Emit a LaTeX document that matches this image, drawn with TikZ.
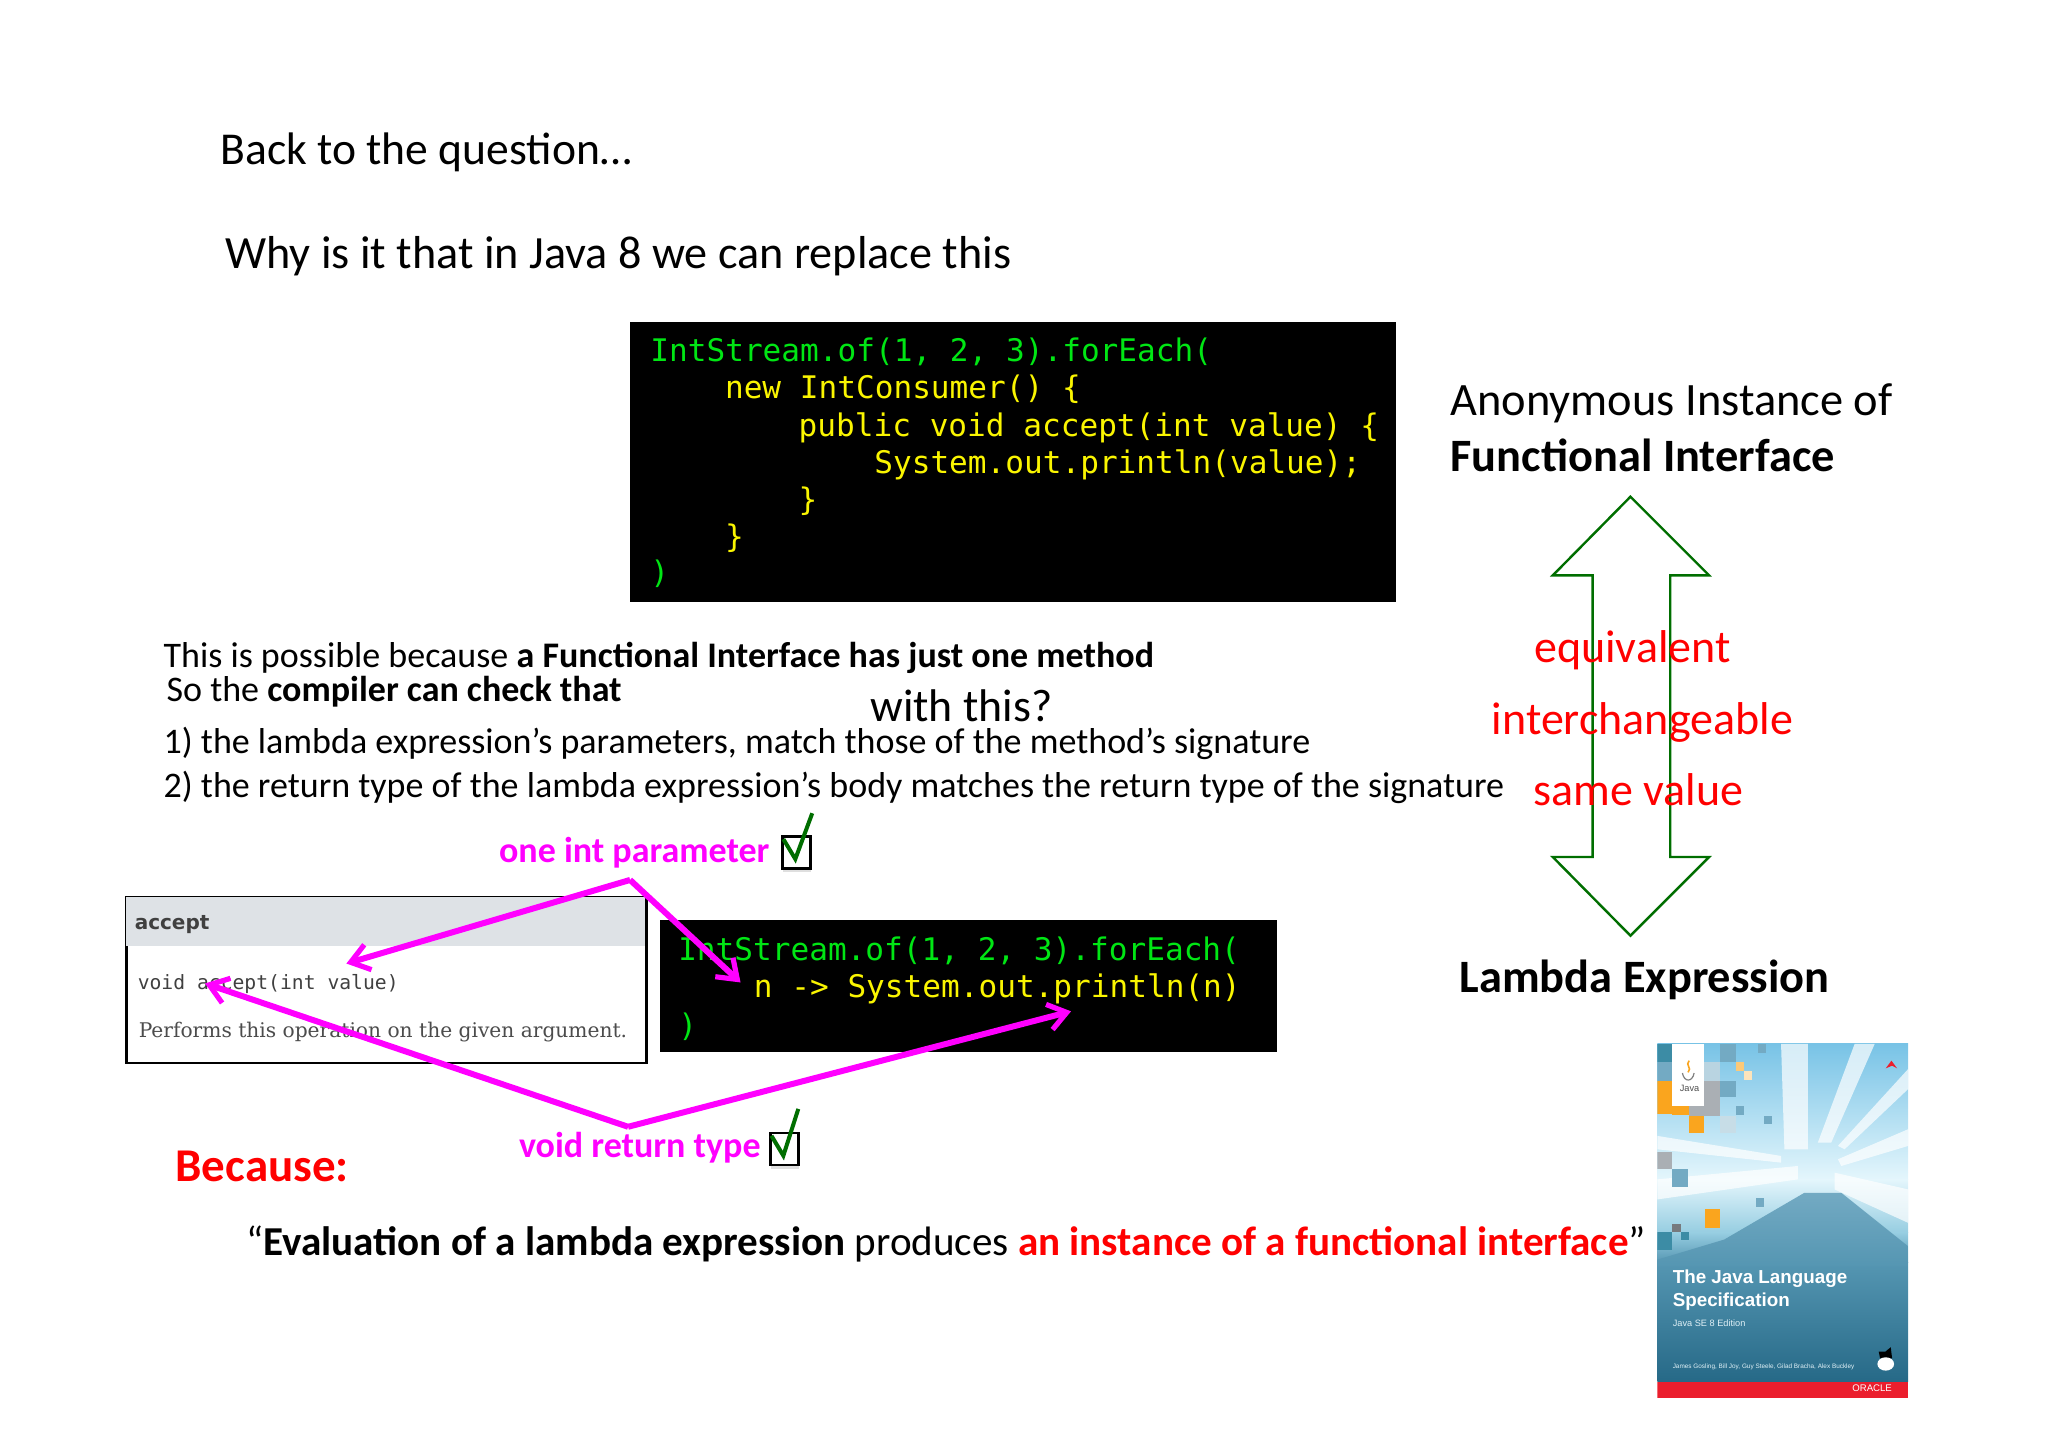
\documentclass[tikz,border=0pt]{standalone}
\usepackage{fontspec}
\setmainfont{Carlito}
\newfontfamily\codefont{DejaVu Sans Mono}
\newfontfamily\docbold{DejaVu Sans}
\newfontfamily\docserif{DejaVu Serif}
\newfontfamily\coverfont{Liberation Sans}
\usetikzlibrary{arrows.meta,shadows}
\definecolor{codegreen}{RGB}{0,230,20}
\definecolor{codeyellow}{RGB}{250,245,0}
\definecolor{tickgreen}{RGB}{0,110,0}
\definecolor{headgray}{RGB}{222,226,230}
\definecolor{hotpink}{RGB}{255,0,255}
\definecolor{skytop}{RGB}{120,195,230}
\definecolor{skymid}{RGB}{228,246,252}
\definecolor{floorlight}{RGB}{150,205,225}
\definecolor{floorteal}{RGB}{85,150,178}
\definecolor{floordark}{RGB}{38,105,135}
\definecolor{tileteal}{RGB}{60,140,165}
\definecolor{tilepale}{RGB}{115,170,195}
\definecolor{tilegray}{RGB}{170,175,180}
\definecolor{tileorange}{RGB}{250,165,30}
\definecolor{barred}{RGB}{235,30,45}
\newcommand{\pxsize}[1]{\fontsize{#1}{#1}\selectfont}
\tikzset{
  txt/.style={anchor=base west,inner sep=0pt,text=black},
  body/.style={txt,font=\pxsize{18}},
  side/.style={txt,font=\pxsize{23.2}},
  redtxt/.style={anchor=base,inner sep=0pt,text=red,font=\pxsize{23}},
  pinktxt/.style={txt,text=hotpink,font=\pxsize{18}\bfseries},
  codeline/.style={txt,font=\codefont\pxsize{15.55}},
  codebox/.style={anchor=north west,fill=black,inner sep=0pt},
  pointer/.style={hotpink,line width=3pt,-{Straight Barb[length=9pt,width=13pt,line width=2.6pt]},
    preaction={draw=black,opacity=.12,transform canvas={yshift=-1.5pt}}},
  tickbox/.style={anchor=north west,draw=black,line width=1.2pt,fill=white,inner sep=0pt,
    minimum width=14pt,minimum height=16pt,drop shadow={opacity=.25,shadow xshift=0pt,shadow yshift=-2pt}},
  tick/.style={tickgreen,line width=2pt},
  cover/.style={inner sep=0pt,anchor=base west,text=white},
  ray/.style={white,opacity=.7}
}
\begin{document}
\begin{tikzpicture}[x=0.4977pt,y=-0.4977pt]
  \useasboundingbox (0,0) rectangle (2057.5,1453.7);
  \node[txt,font=\pxsize{22.8}] (back) at (221,165) {Back to the question…};
  \node[txt,font=\pxsize{23.1}] (why) at (226,270) {Why is it that in Java 8 we can replace this};

  \node[codebox,minimum width=383pt,minimum height=140pt] (oldbox) at (633,323) {};
  \node[codeline,text=codegreen] (old0) at (653,363) {IntStream.of(1, 2, 3).forEach(};
  \node[codeline,text=codeyellow] (old1) at (728,400) {new IntConsumer() \{};
  \node[codeline,text=codeyellow] (old2) at (802,439) {public void accept(int value) \{};
  \node[codeline,text=codeyellow] (old3) at (878,476) {System.out.println(value);};
  \node[codeline,text=codeyellow] (old4) at (802,513) {\}};
  \node[codeline,text=codeyellow] (old5) at (728,550) {\}};
  \node[codeline,text=codegreen] (old6) at (653,586) {)};

  \node[side] (anon) at (1457,417) {Anonymous Instance of};
  \node[side] (func) at (1457,474) {\bfseries Functional Interface};
  \node[side] (lambda) at (1466,997) {\bfseries Lambda Expression};
  \draw[tickgreen,line width=1.2pt] (1638,499) -- (1717,578) -- (1678,578) -- (1678,861) -- (1717,861)
    -- (1638,940) -- (1560,861) -- (1600,861) -- (1600,578) -- (1560,578) -- cycle;
  \node[redtxt] (equiv) at (1640,666) {equivalent};
  \node[redtxt] (inter) at (1650,738) {interchangeable};
  \node[redtxt] (same) at (1646,809) {same value};

  \node[body] (possible) at (164,671) {This is possible because \textbf{a Functional Interface has just one method}};
  \node[body] (sothe) at (167,705) {So the \textbf{compiler can check that}};
  \node[txt,font=\pxsize{22.9}] (withthis) at (874,725) {with this?};
  \node[body] (first) at (164,757) {1) the lambda expression’s parameters, match those of the method’s signature};
  \node[body] (second) at (164,801) {2) the return type of the lambda expression’s body matches the return type of the signature};

  \node[pinktxt] (oneint) at (501,866) {one int parameter};
  \node[tickbox] (boxint) at (785,839) {};
  \draw[tick] (787,843) -- (799,863) -- (816,817);
  \node[pinktxt] (voidret) at (521,1163) {void return type};
  \node[tickbox] (boxvoid) at (773,1137) {};
  \draw[tick] (775,1141) -- (787,1161) -- (802,1114);

  \node[anchor=north west,draw=black,fill=white,line width=1.2pt,inner sep=0pt,minimum width=260pt,minimum height=83pt] (doc) at (126,900) {};
  \fill[headgray] (127,901) rectangle (648,950);
  \node[txt,font=\docbold\bfseries\pxsize{10},text=black!75] (docname) at (135,934) {accept};
  \node[txt,font=\codefont\pxsize{9.85},text=black!75] (docsig) at (138,994) {void accept(int value)};
  \node[txt,font=\docserif\pxsize{10.1},text=black!70] (docline) at (139,1042) {Performs this operation on the given argument.};

  \node[codebox,minimum width=308.5pt,minimum height=66pt] (newbox) at (663,924) {};
  \node[codeline,text=codegreen] (new0) at (681,965) {IntStream.of(1, 2, 3).forEach(};
  \node[codeline,text=codeyellow] (new1) at (757,1002) {n -> System.out.println(n)};
  \node[codeline,text=codegreen] (new2) at (681,1041) {)};

  \node[txt,text=red,font=\pxsize{23.5}\bfseries] (because) at (176,1187) {Because:};
  \node[txt,font=\pxsize{20.55}] (quote) at (247,1261) {“\textbf{Evaluation of a lambda expression} produces \textcolor{red}{\textbf{an instance of a functional interface}}”};

  \coordinate (paramtop) at (633,884);
  \coordinate (sigparam) at (348,968);
  \coordinate (lambdaparam) at (744,987);
  \coordinate (voidbottom) at (631,1132);
  \coordinate (sigvoid) at (206,988);
  \coordinate (lambdabody) at (1076,1016);
  \begin{scope}[pointer]
    \draw (paramtop) to (sigparam);
    \draw (paramtop) to (lambdaparam);
    \draw (voidbottom) to (sigvoid);
    \draw (voidbottom) to (lambdabody);
  \end{scope}

  \begin{scope}[shift={(1648.2,1037)},x=0.1672pt,y=-0.1672pt]
    \clip (50,35) rectangle (800,1095);
    \shade[top color=skytop,bottom color=skymid] (50,35) rectangle (800,440);
    \shade[top color=skymid,bottom color=floorlight] (50,440) rectangle (800,600);
    \shade[top color=floorlight,bottom color=floorteal] (50,600) rectangle (800,690);
    \shade[top color=floorteal,bottom color=floordark] (50,690) rectangle (800,1045);
    \shade[top color=tilepale,bottom color=floorteal] (490,480) -- (600,480) -- (800,640) -- (800,700) -- (50,700) -- (50,680) -- (250,620) -- cycle;
    \fill[ray] (430,350) -- (420,35) -- (500,35) -- (500,350) -- cycle;
    \fill[ray] (530,330) -- (640,35) -- (700,35) -- (570,330) -- cycle;
    \fill[ray] (590,340) -- (800,110) -- (800,170) -- (610,350) -- cycle;
    \fill[ray] (420,370) -- (50,310) -- (50,350) -- (420,390) -- cycle;
    \fill[ray] (590,380) -- (800,290) -- (800,340) -- (600,400) -- cycle;
    \fill[ray] (50,440) -- (470,400) -- (470,440) -- (50,500) -- cycle;
    \fill[ray] (800,470) -- (580,420) -- (580,470) -- (800,570) -- cycle;
    \fill[tileorange] (50,145) rectangle (95,245);
    \fill[tileorange] (95,220) rectangle (145,248);
    \fill[tileorange] (145,250) rectangle (190,302);
    \fill[tileorange] (192,530) rectangle (238,585);
    \fill[tileteal] (50,35) rectangle (95,90);
    \fill[tilepale] (50,90) rectangle (95,145);
    \fill[tilegray] (190,145) rectangle (238,250);
    \fill[tilegray] (145,222) rectangle (190,250);
    \fill[tilepale] (238,145) rectangle (285,195);
    \fill[tilepale] (238,35) rectangle (285,90);
    \fill[tilepale!50!white] (190,90) rectangle (238,145);
    \fill[tilepale!40!white] (238,250) rectangle (285,300);
    \fill[tilepale] (285,222) rectangle (310,248);
    \fill[tilepale] (352,35) rectangle (376,62);
    \fill[tilepale] (368,250) rectangle (392,275);
    \fill[tilegray] (50,358) rectangle (95,408);
    \fill[tilepale] (95,410) rectangle (143,463);
    \fill[tileteal] (50,598) rectangle (95,650);
    \fill[tileteal] (120,598) rectangle (145,622);
    \fill[tilegray!70!black] (95,572) rectangle (120,598);
    \fill[tilepale] (346,496) rectangle (370,522);
    \fill[tileorange!60!white] (285,90) rectangle (308,115);
    \fill[tileorange!30!white] (308,115) rectangle (332,142);
    \fill[white] (95,35) rectangle (190,222);
    \node[cover,text=black!70,font=\coverfont\pxsize{4.6}] (coverjava) at (116,177) {Java};
    \draw[tileorange,line width=.8pt] (145,85) .. controls (132,100) and (155,105) .. (142,120);
    \draw[black!50,line width=.6pt] (125,122) .. controls (130,150) and (155,150) .. (160,122);
    \fill[barred] (750,85) -- (767,108) -- (752,100) -- (733,108) -- cycle;
    \node[cover,font=\coverfont\bfseries\pxsize{9.4}] (covertitle) at (95,752) {The Java Language};
    \node[cover,font=\coverfont\bfseries\pxsize{9.4}] (coversub) at (95,820) {Specification};
    \node[cover,text=white!70!floorlight,font=\coverfont\pxsize{4.6}] (coveredition) at (95,880) {Java SE 8 Edition};
    \node[cover,text=white!70!floorlight,font=\coverfont\pxsize{3.2}] (coverauthors) at (95,1006) {James Gosling, Bill Joy, Guy Steele, Gilad Bracha, Alex Buckley};
    \fill[black] (732,955) -- (712,955) -- (716,975) -- (752,975) -- (748,942) -- cycle;
    \fill[white] (733,992) ellipse (25 and 20);
    \fill[barred] (50,1045) rectangle (800,1095);
    \node[cover,font=\coverfont\pxsize{4.8}] (coveroracle) at (632,1074) {ORACLE};
  \end{scope}
\end{tikzpicture}
\end{document}
